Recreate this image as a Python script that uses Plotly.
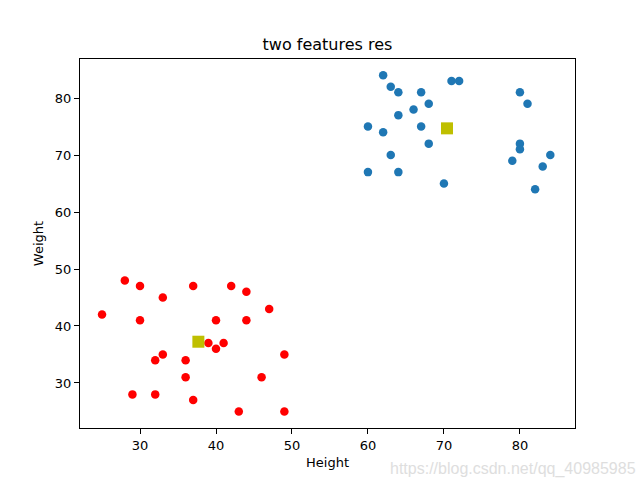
import plotly.graph_objects as go

# Cluster 1 (blue)
blue_height = [62, 63, 64, 67, 71, 72, 68, 66, 64, 60, 62, 67, 68, 63, 60, 64, 70,
               80, 81, 80, 80, 79, 84, 83, 82]
blue_weight = [84, 82, 81, 81, 83, 83, 79, 78, 77, 75, 74, 75, 72, 70, 67, 67, 65,
               81, 79, 72, 71, 69, 70, 68, 64]
# Cluster 2 (red)
red_height = [28, 30, 37, 42, 44, 33, 25, 30, 40, 44, 47, 39, 41, 40, 33, 32, 36,
              49, 36, 46, 29, 32, 37, 43, 49]
red_weight = [48, 47, 47, 47, 46, 45, 42, 41, 41, 41, 43, 37, 37, 36, 35, 34, 34,
              35, 31, 31, 28, 28, 27, 25, 25]
# Centroids
center_height = [70.4, 37.68]
center_weight = [74.68, 37.24]

ticks = [30, 40, 50, 60, 70, 80]

fig = go.Figure()
fig.add_trace(go.Scatter(x=blue_height, y=blue_weight, mode="markers",
                         marker=dict(color="#1f77b4", size=8.5), showlegend=False))
fig.add_trace(go.Scatter(x=red_height, y=red_weight, mode="markers",
                         marker=dict(color="#ff0000", size=8.5), showlegend=False))
fig.add_trace(go.Scatter(x=center_height, y=center_weight, mode="markers",
                         marker=dict(color="#bfbf00", size=12, symbol="square"),
                         showlegend=False))

axis_common = dict(showgrid=False, zeroline=False, showline=True, linecolor="black",
                   linewidth=1, mirror=True, ticks="outside", ticklen=5, tickwidth=1,
                   tickcolor="black", tickvals=ticks,
                   tickfont=dict(family="DejaVu Sans", size=13, color="black"))

fig.update_layout(
    width=641, height=481,
    margin=dict(l=80, r=66, t=59, b=53),
    paper_bgcolor="white", plot_bgcolor="white",
    title=dict(text="two features res", x=0.5, xanchor="center", y=1 - 44 / 481,
               yanchor="middle", xref="paper",
               font=dict(family="DejaVu Sans", size=16, color="black")),
    xaxis=dict(range=[22.1, 87.25],
               title=dict(text="Height", standoff=6,
                          font=dict(family="DejaVu Sans", size=13, color="black")),
               **axis_common),
    yaxis=dict(range=[22.1, 86.85],
               title=dict(text="Weight", standoff=8,
                          font=dict(family="DejaVu Sans", size=13, color="black")),
               **axis_common),
    annotations=[dict(text="https://blog.csdn.net/qq_40985985", xref="paper", yref="paper",
                      x=1.0, y=-0.11, xanchor="left", yanchor="middle", showarrow=False,
                      xshift=-187,
                      font=dict(family="Liberation Sans", size=16, color="#dedede"))],
)

fig.write_html("out.html")
